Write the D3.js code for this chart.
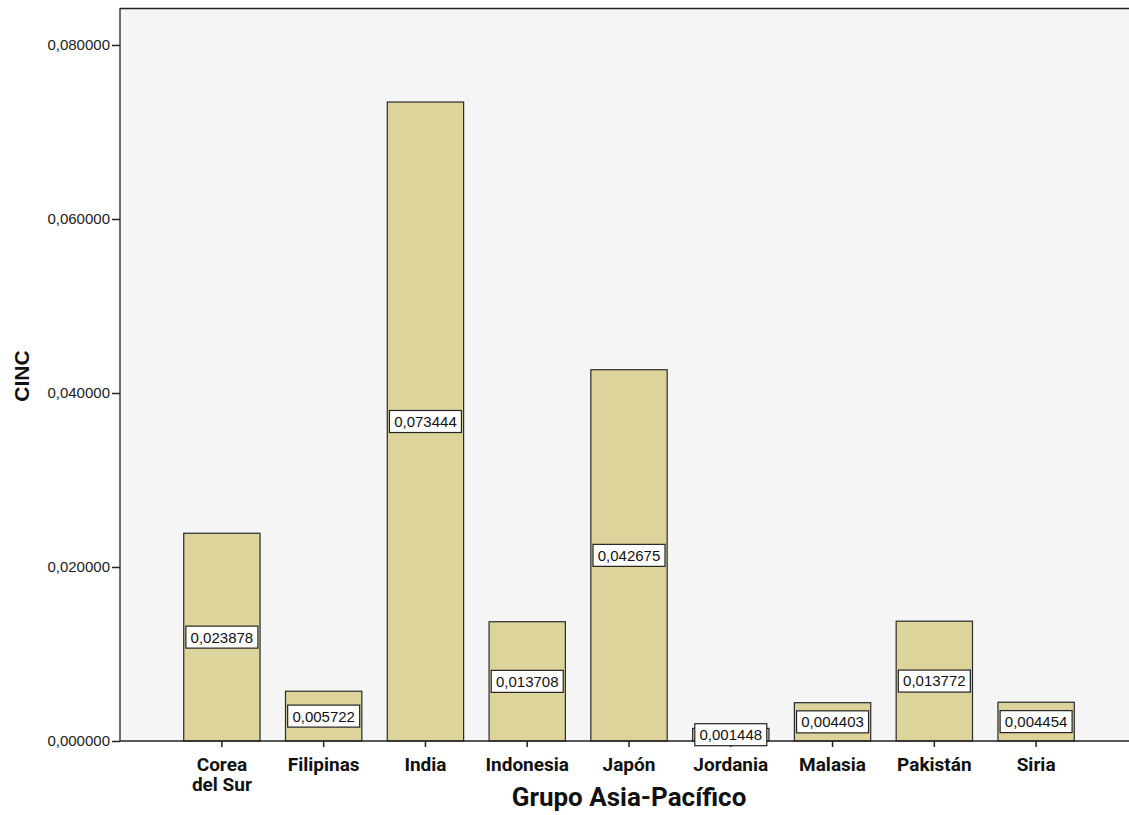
<!DOCTYPE html>
<html><head><meta charset="utf-8">
<script src="https://cdn.jsdelivr.net/npm/d3@7"></script>
<style>body{margin:0;background:#fff}svg{display:block}</style>
</head><body>
<svg id="c" width="1129" height="815"></svg>
<script>
const categories = [["Corea","del Sur"],["Filipinas"],["India"],["Indonesia"],["Japón"],["Jordania"],["Malasia"],["Pakistán"],["Siria"]];
const values = [0.023878,0.005722,0.073444,0.013708,0.042675,0.001448,0.004403,0.013772,0.004454];
const yTicks = [0,0.02,0.04,0.06,0.08];
const xTitle = "Grupo Asia-Pacífico";
const yTitle = "CINC";

const svg = d3.select("#c");
const L=120, T=8, R=1129, B=741;
const fmt = v => d3.format(".6f")(v).replace(".", ",");
const y = d3.scaleLinear().domain([0,0.08425]).range([B,T]);
const x = d3.scaleBand().domain(categories.map((d,i)=>i)).range([171,1087]).paddingInner(0.25).paddingOuter(0.125);

svg.append("rect").attr("x",L).attr("y",T).attr("width",R-L).attr("height",B-T).attr("fill","#f5f5f5");
svg.append("line").attr("x1",L).attr("x2",R).attr("y1",T+0.5).attr("y2",T+0.5).attr("stroke","#222").attr("stroke-width",1.3);

svg.selectAll("rect.bar").data(values).join("rect").attr("class","bar")
  .attr("x",(d,i)=>x(i)).attr("width",x.bandwidth())
  .attr("y",d=>y(d)).attr("height",d=>B-y(d))
  .attr("fill","#dcd49b").attr("stroke","#2a2a2a").attr("stroke-width",1.2);

const ya = svg.append("g").attr("transform",`translate(${L},0)`)
  .call(d3.axisLeft(y).tickValues(yTicks).tickFormat(fmt).tickSize(8));
ya.select(".domain").attr("stroke","#222").attr("stroke-width",1.3).attr("d",`M0,${T}V${B}`);
ya.selectAll(".tick line").attr("stroke","#222").attr("stroke-width",1.5);
ya.selectAll(".tick text").attr("font-family","Liberation Sans, Arial, sans-serif").attr("font-size",15).attr("fill","#222").attr("x",-10);

const xa = svg.append("g").attr("transform",`translate(0,${B})`)
  .call(d3.axisBottom(x).tickSize(6).tickFormat(""));
xa.select(".domain").attr("stroke","#222").attr("stroke-width",1.3).attr("d",`M${L},0H${R}`);
xa.selectAll(".tick line").attr("stroke","#222").attr("stroke-width",1.5);
xa.selectAll(".tick").each(function(d){
  const t = d3.select(this).append("text").attr("fill","#111").attr("font-family","Roboto, sans-serif")
    .attr("font-weight","bold").attr("font-size",19).attr("text-anchor","middle");
  categories[d].forEach((s,k)=>t.append("tspan").attr("x",0).attr("y",30+k*20).text(s));
});

// value labels
const lab = svg.selectAll("g.lab").data(values).join("g").attr("class","lab")
  .attr("transform",(d,i)=>`translate(${x(i)+x.bandwidth()/2},${(y(d)+B)/2})`);
lab.append("rect").attr("x",-36).attr("y",-11).attr("width",72).attr("height",22)
  .attr("fill","#fff").attr("stroke","#222").attr("stroke-width",1.2);
lab.append("text").attr("text-anchor","middle").attr("dy","0.36em")
  .attr("font-family","Liberation Sans, Arial, sans-serif").attr("font-size",15).attr("fill","#111").text(fmt);

svg.append("text").attr("x",629).attr("y",806).attr("text-anchor","middle")
  .attr("font-family","Roboto, sans-serif").attr("font-weight","bold").attr("font-size",26).attr("fill","#111").text(xTitle);
svg.append("text").attr("transform","translate(29,376) rotate(-90)").attr("text-anchor","middle")
  .attr("font-family","Liberation Sans, Arial, sans-serif").attr("font-weight","bold").attr("font-size",21).attr("fill","#111").text(yTitle);
</script>
</body></html>
